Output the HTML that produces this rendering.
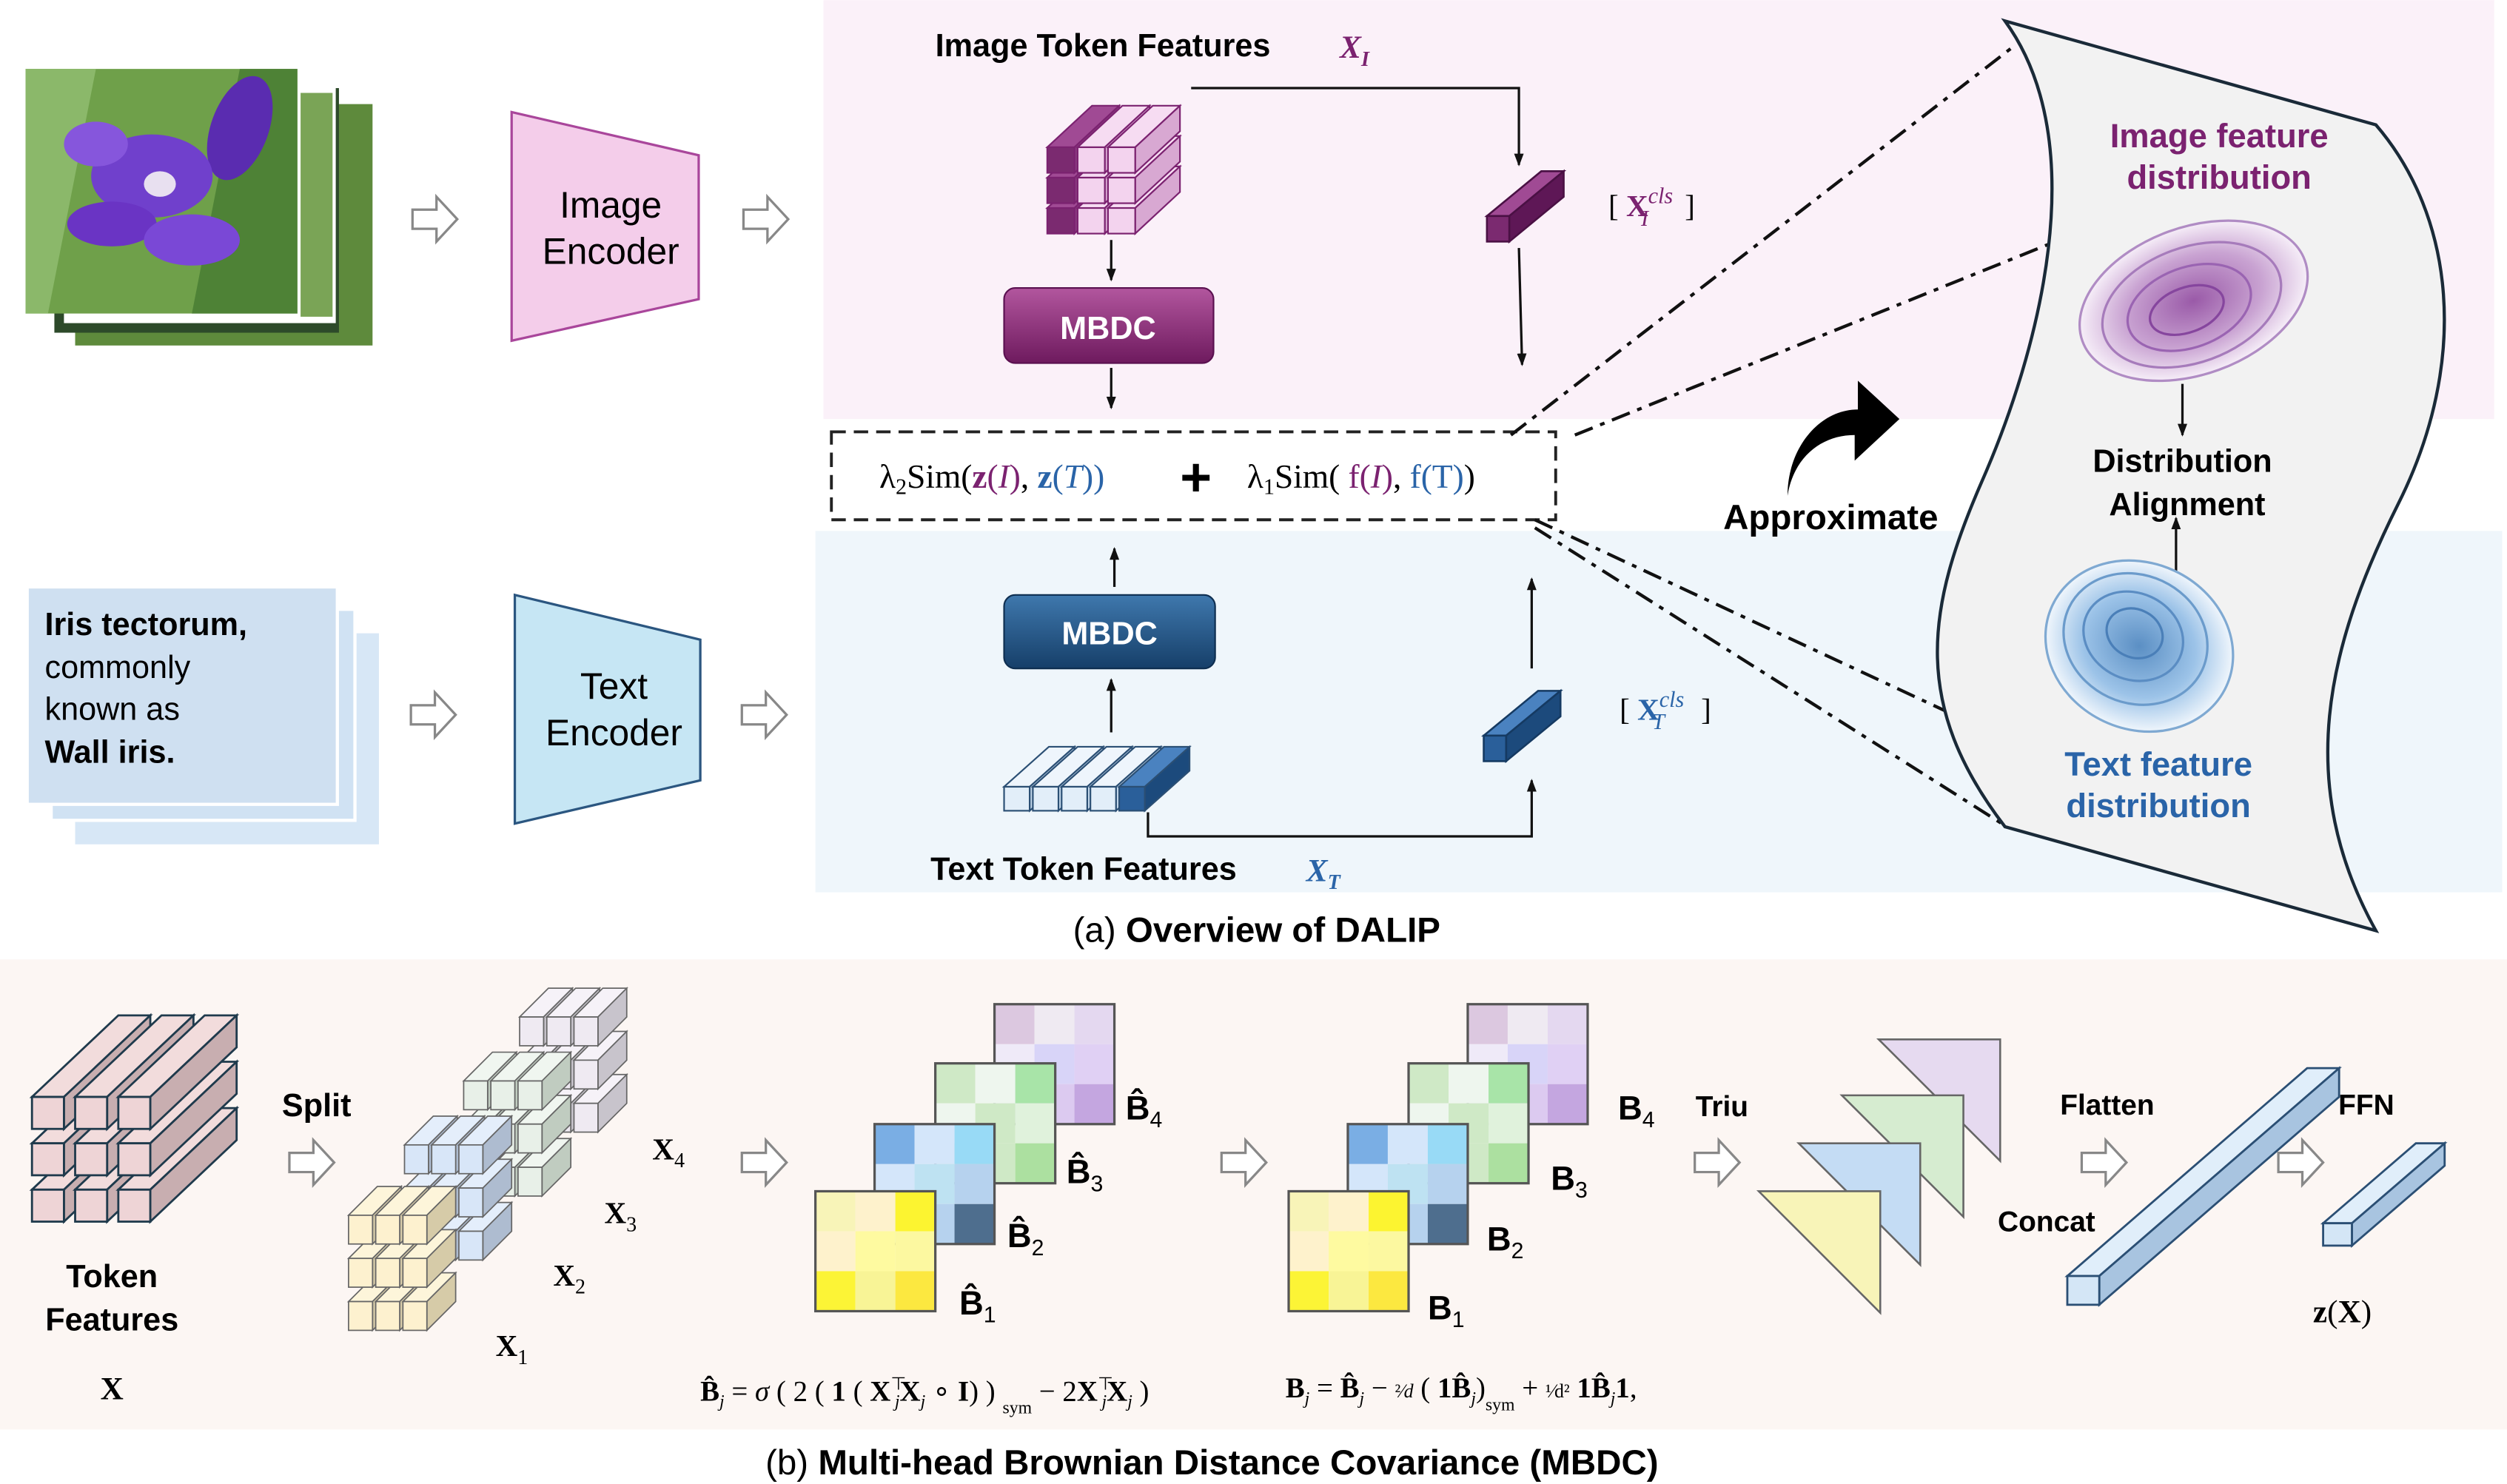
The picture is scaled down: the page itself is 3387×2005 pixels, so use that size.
<!DOCTYPE html>
<html><head><meta charset="utf-8">
<style>
html,body{margin:0;padding:0;background:#fff;}
svg{display:block;}
text{font-family:"Liberation Sans","DejaVu Sans",sans-serif;}
.b{font-weight:bold;}
.s{font-family:"Liberation Serif",serif;}
</style></head><body>
<svg id="g" width="3387" height="2005" viewBox="0 0 1568 928" xmlns="http://www.w3.org/2000/svg">
<defs>
<radialGradient id="pg" cx="50%" cy="50%" r="50%"><stop offset="0" stop-color="#9a5aa8"/><stop offset="0.6" stop-color="#c9a3d2"/><stop offset="1" stop-color="#f6eef8"/></radialGradient>
<radialGradient id="bg2" cx="50%" cy="50%" r="50%"><stop offset="0" stop-color="#5b8fc4"/><stop offset="0.6" stop-color="#9cc3e8"/><stop offset="1" stop-color="#f0f6fc"/></radialGradient>
<linearGradient id="mp" x1="0" y1="0" x2="0" y2="1"><stop offset="0" stop-color="#b2569e"/><stop offset="1" stop-color="#6e1a5e"/></linearGradient>
<linearGradient id="mb" x1="0" y1="0" x2="0" y2="1"><stop offset="0" stop-color="#3f78ad"/><stop offset="1" stop-color="#163f69"/></linearGradient>
<marker id="ar" markerWidth="8" markerHeight="8" refX="7" refY="4" orient="auto" markerUnits="userSpaceOnUse"><path d="M0,1 L8,4 L0,7 z" fill="#111"/></marker>
</defs>
<rect x="515" y="0" width="1045" height="262" fill="#fbf1f9"/>
<rect x="510" y="332" width="1055" height="226" fill="#eff6fb"/>
<rect x="0" y="600" width="1568" height="294" fill="#fcf6f3"/>

<!-- iris image stack -->
<rect x="47" y="65" width="186" height="151" fill="#5e8a3c"/>
<rect x="34" y="55" width="178" height="153" fill="#2d4a2a"/>
<rect x="40" y="52" width="170" height="150" fill="#fff"/>
<rect x="188" y="58" width="20" height="140" fill="#7aa456"/>
<rect x="16" y="43" width="170" height="153" fill="#6fa04a"/>
<path d="M16,43 L60,43 L30,196 L16,196z" fill="#8bb86a"/>
<path d="M150,43 L186,43 L186,196 L120,196z" fill="#4e8236"/>
<ellipse cx="150" cy="80" rx="18" ry="34" fill="#5a2cb0" transform="rotate(20 150 80)"/>
<ellipse cx="95" cy="110" rx="38" ry="26" fill="#7040cc"/>
<ellipse cx="70" cy="140" rx="28" ry="14" fill="#6a34c4"/>
<ellipse cx="120" cy="150" rx="30" ry="16" fill="#7a48d6"/>
<ellipse cx="60" cy="90" rx="20" ry="14" fill="#8656dc"/>
<ellipse cx="100" cy="115" rx="10" ry="8" fill="#e8e0f0"/>

<g id="harrows" fill="#fff" stroke="#888" stroke-width="1.5"></g>

<polygon points="320,70 437,97 437,187 320,213" fill="#f4cdea" stroke="#a9469b" stroke-width="1.5"/>
<text x="382" y="136" font-size="23" text-anchor="middle">Image</text>
<text x="382" y="165" font-size="23" text-anchor="middle">Encoder</text>

<rect x="47" y="396" width="190" height="132" fill="#d7e7f6"/>
<rect x="32" y="381" width="190" height="132" fill="#d0e2f3" stroke="#fff" stroke-width="2"/>
<rect x="17" y="367" width="194" height="136" fill="#cfe0f1" stroke="#fff" stroke-width="2"/>
<text x="28" y="397" font-size="20" class="b">Iris tectorum,</text>
<text x="28" y="424" font-size="20">commonly</text>
<text x="28" y="450" font-size="20">known as</text>
<text x="28" y="477" font-size="20" class="b">Wall iris.</text>

<polygon points="322,372 438,400 438,488 322,515" fill="#c6e6f4" stroke="#2b5680" stroke-width="1.5"/>
<text x="384" y="437" font-size="23" text-anchor="middle">Text</text>
<text x="384" y="466" font-size="23" text-anchor="middle">Encoder</text>

<text x="585" y="35" font-size="20" class="b">Image Token Features</text>
<text x="838" y="36" font-size="20" class="s b" fill="#7b2270" font-style="italic">X<tspan font-size="13" dy="5">I</tspan></text>
<g id="imgtok"></g>
<rect x="628" y="180" width="131" height="47" rx="7" fill="url(#mp)" stroke="#5a1050"/>
<text x="693" y="212" font-size="20" class="b" fill="#fff" text-anchor="middle">MBDC</text>
<line x1="695" y1="150" x2="695" y2="175" stroke="#111" stroke-width="1.5" marker-end="url(#ar)"/>
<line x1="695" y1="230" x2="695" y2="255" stroke="#111" stroke-width="1.5" marker-end="url(#ar)"/>
<polyline points="745,55 950,55 950,103" fill="none" stroke="#111" stroke-width="1.5" marker-end="url(#ar)"/>
<line x1="950" y1="155" x2="952" y2="228" stroke="#111" stroke-width="1.5" marker-end="url(#ar)"/>
<g id="clsI"></g>
<text x="1006" y="135" font-size="19" class="s">[ <tspan fill="#7b2270" font-weight="bold">X</tspan><tspan fill="#7b2270" font-size="14" dy="-8" font-style="italic">cls</tspan><tspan fill="#7b2270" font-size="14" dx="-20" dy="14" font-style="italic">I</tspan><tspan dx="18" dy="-6"> ]</tspan></text>

<rect x="520" y="270" width="453" height="55" fill="#fff" stroke="#222" stroke-width="1.8" stroke-dasharray="9,5"/>
<text x="550" y="305" font-size="21" class="s">λ<tspan font-size="14" dy="4">2</tspan><tspan dy="-4">Sim(</tspan><tspan fill="#7b2270" font-weight="bold">z</tspan><tspan fill="#7b2270">(<tspan font-style="italic">I</tspan>)</tspan>, <tspan fill="#2a64a8" font-weight="bold">z</tspan><tspan fill="#2a64a8">(<tspan font-style="italic">T</tspan>))</tspan></text>
<text x="748" y="310" font-size="34" class="b" text-anchor="middle">+</text>
<text x="780" y="305" font-size="21" class="s">λ<tspan font-size="14" dy="4">1</tspan><tspan dy="-4">Sim( </tspan><tspan fill="#7b2270">f(<tspan font-style="italic">I</tspan>)</tspan>, <tspan fill="#2a64a8">f(T)</tspan>)</text>

<rect x="628" y="372" width="132" height="46" rx="7" fill="url(#mb)" stroke="#0e2e50"/>
<text x="694" y="403" font-size="20" class="b" fill="#fff" text-anchor="middle">MBDC</text>
<line x1="697" y1="367" x2="697" y2="343" stroke="#111" stroke-width="1.5" marker-end="url(#ar)"/>
<line x1="695" y1="458" x2="695" y2="425" stroke="#111" stroke-width="1.5" marker-end="url(#ar)"/>
<g id="txttok"></g>
<polyline points="718,508 718,523 958,523 958,488" fill="none" stroke="#111" stroke-width="1.5" marker-end="url(#ar)"/>
<line x1="958" y1="418" x2="958" y2="362" stroke="#111" stroke-width="1.5" marker-end="url(#ar)"/>
<g id="clsT"></g>
<text x="1013" y="450" font-size="19" class="s">[ <tspan fill="#2a64a8" font-weight="bold">X</tspan><tspan fill="#2a64a8" font-size="14" dy="-8" font-style="italic">cls</tspan><tspan fill="#2a64a8" font-size="14" dx="-20" dy="14" font-style="italic">T</tspan><tspan dx="18" dy="-6"> ]</tspan></text>
<text x="582" y="550" font-size="20" class="b">Text Token Features</text>
<text x="817" y="551" font-size="20" class="s b" fill="#2a64a8" font-style="italic">X<tspan font-size="13" dy="5">T</tspan></text>

<g stroke="#111" stroke-width="2" stroke-dasharray="12,5,3,5" fill="none">
<line x1="945" y1="272" x2="1258" y2="30"/>
<line x1="985" y1="272" x2="1283" y2="152"/>
<line x1="960" y1="325" x2="1222" y2="447"/>
<line x1="960" y1="330" x2="1252" y2="515"/>
</g>

<path d="M1118,310 C1122,285 1140,272 1160,272 L1160,288 L1188,262 L1162,238 L1162,256 C1138,256 1118,280 1118,310 z" fill="#000"/>
<text x="1145" y="331" font-size="22" class="b" text-anchor="middle">Approximate</text>

<path d="M1254,13 L1486,78 C1535,135 1545,225 1500,315 C1455,405 1435,490 1486,582 L1254,517 C1195,440 1205,380 1240,300 C1275,220 1310,90 1254,13 z" fill="#f2f2f2" stroke="#1a2a38" stroke-width="2"/>
<text x="1388" y="92" font-size="21" class="b" fill="#7b2270" text-anchor="middle">Image feature</text>
<text x="1388" y="118" font-size="21" class="b" fill="#7b2270" text-anchor="middle">distribution</text>
<g transform="translate(1372,188) rotate(-20)">
<ellipse rx="74" ry="46" fill="url(#pg)" stroke="#b08cc4" stroke-width="1.5"/>
<ellipse cx="-2" cy="2" rx="58" ry="36" fill="none" stroke="#a67bbb" stroke-width="1.5"/>
<ellipse cx="-4" cy="3" rx="40" ry="25" fill="none" stroke="#9a64b2" stroke-width="1.5"/>
<ellipse cx="-6" cy="4" rx="24" ry="14" fill="none" stroke="#86469e" stroke-width="1.5"/>
</g>
<line x1="1365" y1="240" x2="1365" y2="272" stroke="#111" stroke-width="1.5" marker-end="url(#ar)"/>
<text x="1365" y="295" font-size="20" class="b" text-anchor="middle">Distribution</text>
<text x="1368" y="322" font-size="20" class="b" text-anchor="middle">Alignment</text>
<line x1="1361" y1="357" x2="1361" y2="324" stroke="#111" stroke-width="1.5" marker-end="url(#ar)"/>
<g transform="translate(1338,404) rotate(25)">
<ellipse rx="60" ry="52" fill="url(#bg2)" stroke="#7fa9d2" stroke-width="1.5"/>
<ellipse cx="-4" cy="-3" rx="46" ry="40" fill="none" stroke="#6b9bcb" stroke-width="1.5"/>
<ellipse cx="-6" cy="-4" rx="32" ry="27" fill="none" stroke="#5b8dc3" stroke-width="1.5"/>
<ellipse cx="-6" cy="-6" rx="18" ry="15" fill="none" stroke="#4a7fb8" stroke-width="1.5"/>
</g>
<text x="1350" y="485" font-size="21" class="b" fill="#2a64a8" text-anchor="middle">Text feature</text>
<text x="1350" y="511" font-size="21" class="b" fill="#2a64a8" text-anchor="middle">distribution</text>

<text x="786" y="589" font-size="22" text-anchor="middle">(a)  <tspan font-weight="bold">Overview of DALIP</tspan></text>

<g id="tokX"></g>
<text x="70" y="805" font-size="20" class="b" text-anchor="middle">Token</text>
<text x="70" y="832" font-size="20" class="b" text-anchor="middle">Features</text>
<text x="70" y="875" font-size="20" class="s b" text-anchor="middle">X</text>
<text x="198" y="698" font-size="20" class="b" text-anchor="middle">Split</text>
<g id="splitc"></g>
<text x="408" y="725" font-size="19" class="s b">X<tspan font-size="13" dy="5" font-weight="normal">4</tspan></text>
<text x="378" y="765" font-size="19" class="s b">X<tspan font-size="13" dy="5" font-weight="normal">3</tspan></text>
<text x="346" y="804" font-size="19" class="s b">X<tspan font-size="13" dy="5" font-weight="normal">2</tspan></text>
<text x="310" y="848" font-size="19" class="s b">X<tspan font-size="13" dy="5" font-weight="normal">1</tspan></text>
<g id="mats"></g>
<g class="s" font-size="21" font-weight="bold">
<text x="704" y="700">B̂<tspan font-size="14" dy="5" font-weight="normal">4</tspan></text>
<text x="667" y="740">B̂<tspan font-size="14" dy="5" font-weight="normal">3</tspan></text>
<text x="630" y="780">B̂<tspan font-size="14" dy="5" font-weight="normal">2</tspan></text>
<text x="600" y="822">B̂<tspan font-size="14" dy="5" font-weight="normal">1</tspan></text>
<text x="1012" y="700">B<tspan font-size="14" dy="5" font-weight="normal">4</tspan></text>
<text x="970" y="744">B<tspan font-size="14" dy="5" font-weight="normal">3</tspan></text>
<text x="930" y="782">B<tspan font-size="14" dy="5" font-weight="normal">2</tspan></text>
<text x="893" y="825">B<tspan font-size="14" dy="5" font-weight="normal">1</tspan></text>
</g>
<text x="438" y="876" font-size="18" class="s"><tspan font-weight="bold">B̂</tspan><tspan font-size="11" dy="4" font-style="italic">j</tspan><tspan dy="-4"> = </tspan><tspan font-style="italic">σ</tspan> ( 2 ( <tspan font-weight="bold">1</tspan> ( <tspan font-weight="bold">X</tspan><tspan font-size="11" dy="-7">⊤</tspan><tspan font-size="11" dx="-7" dy="11" font-style="italic">j</tspan><tspan dy="-4" font-weight="bold">X</tspan><tspan font-size="11" dy="4" font-style="italic">j</tspan><tspan dy="-4"> ∘ </tspan><tspan font-weight="bold">I</tspan>) ) <tspan font-size="11" dy="8">sym</tspan><tspan dy="-8"> − 2</tspan><tspan font-weight="bold">X</tspan><tspan font-size="11" dy="-7">⊤</tspan><tspan font-size="11" dx="-7" dy="11" font-style="italic">j</tspan><tspan dy="-4" font-weight="bold">X</tspan><tspan font-size="11" dy="4" font-style="italic">j</tspan><tspan dy="-4"> )</tspan></text>
<text x="804" y="874" font-size="18" class="s"><tspan font-weight="bold">B</tspan><tspan font-size="11" dy="4" font-style="italic">j</tspan><tspan dy="-4"> = </tspan><tspan font-weight="bold">B̂</tspan><tspan font-size="11" dy="4" font-style="italic">j</tspan><tspan dy="-4"> − </tspan><tspan font-size="12">²⁄</tspan><tspan font-size="12" font-style="italic">d</tspan> ( <tspan font-weight="bold">1B̂</tspan><tspan font-size="11" dy="4" font-style="italic">j</tspan><tspan dy="-4">)</tspan><tspan font-size="11" dy="8">sym</tspan><tspan dy="-8"> + </tspan><tspan font-size="12">¹⁄d²</tspan><tspan font-weight="bold"> 1B̂</tspan><tspan font-size="11" dy="4" font-style="italic">j</tspan><tspan dy="-4" font-weight="bold">1</tspan>,</text>
<text x="1077" y="698" font-size="18" class="b" text-anchor="middle">Triu</text>
<g id="tris"></g>
<text x="1318" y="697" font-size="18" class="b" text-anchor="middle">Flatten</text>
<text x="1280" y="770" font-size="18" class="b" text-anchor="middle">Concat</text>
<g id="flat"></g>
<text x="1480" y="697" font-size="18" class="b" text-anchor="middle">FFN</text>
<text x="1465" y="827" font-size="20" class="s b" text-anchor="middle">z<tspan font-weight="normal">(</tspan>X<tspan font-weight="normal">)</tspan></text>
<text x="758" y="922" font-size="22" text-anchor="middle">(b)  <tspan font-weight="bold">Multi-head Brownian Distance Covariance (MBDC)</tspan></text>
</svg>
<script>
const NS="http://www.w3.org/2000/svg";
function el(p,t,a){const e=document.createElementNS(NS,t);for(const k in a)e.setAttribute(k,a[k]);document.getElementById(p).appendChild(e);return e;}
function cube(p,x,y,w,h,dx,dy,f,top,side,st,sw){
 sw=sw||1.2;
 el(p,"polygon",{points:`${x},${y} ${x+dx},${y-dy} ${x+w+dx},${y-dy} ${x+w},${y}`,fill:top,stroke:st,"stroke-width":sw});
 el(p,"polygon",{points:`${x+w},${y} ${x+w+dx},${y-dy} ${x+w+dx},${y+h-dy} ${x+w},${y+h}`,fill:side,stroke:st,"stroke-width":sw});
 el(p,"rect",{x:x,y:y,width:w,height:h,fill:f,stroke:st,"stroke-width":sw});
}
function grid(p,x0,y0,w,h,gx,gy,dx,dy,cols){
 for(let r=2;r>=0;r--)for(let c=0;c<3;c++){const cc=typeof cols==="function"?cols(r,c):cols;cube(p,x0+c*gx,y0+r*gy,w,h,dx,dy,cc[0],cc[1],cc[2],cc[3],cc[4]);}
}
function harrow(x,y){el("harrows","polygon",{points:`${x},${y-6} ${x+15},${y-6} ${x+15},${y-14} ${x+28},${y} ${x+15},${y+14} ${x+15},${y+6} ${x},${y+6}`});}
[[258,137],[465,137],[257,447],[464,447],[181,727],[464,727],[764,727],[1060,727],[1302,727],[1425,727]].forEach(a=>harrow(a[0],a[1]));
// image tokens
grid("imgtok",655,92,17,16,19,19,28,26,(r,c)=>c==0?["#7b2a70","#a04a94","#8a3a80","#7b2270",1]:["#f3d3ee","#f6dcf2","#d8a8d2","#7b2270",1]);
cube("clsI",930,135,14,16,34,28,"#7b2a70","#a04a94","#5e1756","#4a1044");
cube("clsT",928,460,14,16,34,28,"#2a5f9a","#4a82c0","#1c4a7c","#153a62");
for(let i=0;i<5;i++){const dark=i==4;cube("txttok",628+i*18,492,16,15,28,25,dark?"#2a5f9a":"#e2eef9",dark?"#4a82c0":"#eef5fc",dark?"#1c4a7c":"#c2d6ea","#2b4f74",1);}
// token features X
grid("tokX",20,686,20,20,27,29,54,51,["#eed4d6","#f2dcdc","#c8aeb0","#1f3a4c",1.3]);
// split groups
const groups=[[325,636,"#efeaf2","#f6f2f8","#c8c4cc"],[290,676,"#e8f0e8","#f0f6f0","#c0ccc0"],[253,716,"#d8e6f8","#e4eefb","#aebcd0"],[218,760,"#fdf1cf","#fdf5da","#d6cba8"]];
groups.forEach(g=>grid("splitc",g[0],g[1],15,18,17,27,18,18,[g[2],g[3],g[4],"#666",0.8]));
function mat(x,y,cols){const s=25;let k=0;for(let r=0;r<3;r++)for(let c=0;c<3;c++){el("mats","rect",{x:x+c*s,y:y+r*s,width:s,height:s,fill:cols[k++]});}el("mats","rect",{x:x,y:y,width:75,height:75,fill:"none",stroke:"#555","stroke-width":1.5});}
const P=["#dcc8e0","#efeaf2","#e4d8f0","#efeaf8","#d8d4f8","#e0d0f4","#e4dcf4","#dccaf0","#c4a6e0"];
const G=["#cfe9c6","#eef6ee","#a8e4a8","#eef6ee","#cfe9c6","#e0f2dc","#dff0da","#cfe9c6","#ace0a0"];
const B=["#7aaee4","#d4e6fa","#98daf6","#d4e6fa","#bee2f2","#b6d2ee","#d4e6fa","#b6d2ee","#4e6e8e"];
const Y=["#f8f4b8","#fef2cc","#fcf430","#fef2cc","#fefaa0","#fcf8a0","#fcf436","#f8f496","#fce840"];
[0,296].forEach(o=>{mat(622+o,628,P);mat(585+o,665,G);mat(547+o,703,B);mat(510+o,745,Y);});
function tri(x,y,s,f){el("tris","polygon",{points:`${x},${y} ${x+s},${y} ${x+s},${y+s}`,fill:f,stroke:"#666","stroke-width":1.2});}
tri(1175,650,76,"#e6daf0");tri(1152,685,76,"#d6ecd0");tri(1125,715,76,"#c4dcf4");tri(1100,745,76,"#f8f4b8");
cube("flat",1293,798,20,18,150,130,"#d4e6f6","#e0eefa","#a8c4e0","#2b4f74",1.3);
cube("flat",1453,765,18,14,58,50,"#d4e6f6","#e0eefa","#a8c4e0","#2b4f74",1.3);
</script>
</body></html>
